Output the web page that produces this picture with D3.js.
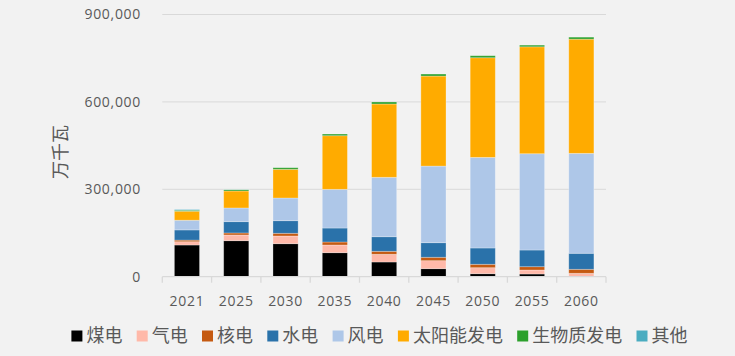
<!DOCTYPE html>
<html><head><meta charset="utf-8">
<script src="https://cdn.jsdelivr.net/npm/d3@7"></script>
<style>
html,body{margin:0;padding:0;background:#f2f2f2;}
svg{display:block;}
</style></head>
<body>
<svg id="c" width="735" height="356"></svg>
<script>
const years = ["2021","2025","2030","2035","2040","2045","2050","2055","2060"];
const seriesNames = ["煤电","气电","核电","水电","风电","太阳能发电","生物质发电","其他"];
const coal    = [108800,123600,113300, 82400, 50500, 27500, 10300,  9300,     0];
const gas     = [ 11300, 19600, 26400, 26400, 26400, 27500, 20600, 13700, 11700];
const nuclear = [  5500,  6900,  9300, 10300, 10300, 11700, 11700, 11300, 13700];
const hydro   = [ 35000, 38800, 43200, 48000, 50000, 50000, 56000, 57300, 55000];
const wind    = [ 33300, 47000, 77900,132800,204000,263000,311000,330500,343000];
const solar   = [ 30900, 58300, 98500,184000,251600,309000,342000,367000,392000];
const biomass = [  3400,  4500,  5500,  5800,  6900,  6900,  6900,  5800,  6900];
const other   = [  2500,   500,     0,     0,     0,     0,     0,     0,     0];
const yTicks  = [0,300000,600000,900000];
const colors  = ["#000000","#ffb9a9","#c55a11","#2a72aa","#aec7e8","#ffab00","#2ca02c","#4aacc0"];

const seriesData = [coal,gas,nuclear,hydro,wind,solar,biomass,other];
const table = years.map((y,i)=>{const o={year:y}; seriesNames.forEach((s,j)=>o[s]=seriesData[j][i]); return o;});

const svg = d3.select("#c");
const numFont = "'Open Sans', 'Noto Sans', sans-serif";
const cjkFont = "'Noto Sans CJK SC', sans-serif";
const textCol = "#595959";

const x = d3.scaleBand().domain(years).range([162.3,606]).padding(0);
const y = d3.scaleLinear().domain([0,900000]).range([276.7,14.5]);
const bw = x.bandwidth()*0.51;

// gridlines
svg.append("g").selectAll("line").data(yTicks.filter(d=>d>0)).join("line")
  .attr("x1",162.3).attr("x2",606).attr("y1",d=>y(d)).attr("y2",d=>y(d))
  .attr("stroke","#d9d9d9").attr("stroke-width",1);

// y labels
svg.append("g").selectAll("text").data(yTicks).join("text")
  .attr("x",141).attr("y",d=>y(d)).attr("dy","0.35em").attr("text-anchor","end")
  .attr("font-family",numFont).attr("font-size",14).attr("letter-spacing","0.7px").attr("fill",textCol)
  .text(d=>d3.format(",")(d));

// y title
svg.append("text").attr("transform","translate(61,152) rotate(-90)")
  .attr("text-anchor","middle").attr("dy","0.35em")
  .attr("font-family",cjkFont).attr("font-size",18).attr("fill",textCol).text("万千瓦");

// bars
const stack = d3.stack().keys(seriesNames)(table);
svg.append("g").selectAll("g").data(stack).join("g")
  .attr("fill",(d,i)=>colors[i])
  .selectAll("rect").data(d=>d).join("rect")
  .attr("x",d=>x(d.data.year)+(x.bandwidth()-bw)/2)
  .attr("width",bw)
  .attr("y",d=>y(d[1]))
  .attr("height",d=>Math.max(0,y(d[0])-y(d[1])))
  .attr("stroke","#ffffff").attr("stroke-opacity",0.35).attr("stroke-width",0.8);

// x axis
const xAxis = svg.append("g").attr("transform",`translate(0,${y(0)})`);
xAxis.append("line").attr("x1",162.3).attr("x2",606).attr("stroke","#d9d9d9").attr("stroke-width",1.3);
const bounds = years.map(d=>x(d)).concat([x(years[years.length-1])+x.bandwidth()]);
xAxis.selectAll("line.t").data(bounds).join("line").attr("class","t")
  .attr("x1",d=>d).attr("x2",d=>d).attr("y1",0).attr("y2",6)
  .attr("stroke","#d9d9d9").attr("stroke-width",1.3);
xAxis.selectAll("text").data(years).join("text")
  .attr("x",d=>x(d)+x.bandwidth()/2).attr("y",24).attr("dy","0.35em")
  .attr("text-anchor","middle").attr("font-family",numFont).attr("font-size",14).attr("letter-spacing","0.7px").attr("fill",textCol)
  .text(d=>d);

// legend
const lg = svg.append("g");
let lx = 71.4;
seriesNames.forEach((s,i)=>{
  lg.append("rect").attr("x",lx).attr("y",330.5).attr("width",11).attr("height",11).attr("fill",colors[i]);
  const t = lg.append("text").attr("x",lx+15).attr("y",336).attr("dy","0.36em")
    .attr("font-family",cjkFont).attr("font-size",18).attr("fill",textCol).text(s);
  const w = t.node().getComputedTextLength();
  lx = lx + 15 + w + 14.3;
});
</script>
</body></html>
